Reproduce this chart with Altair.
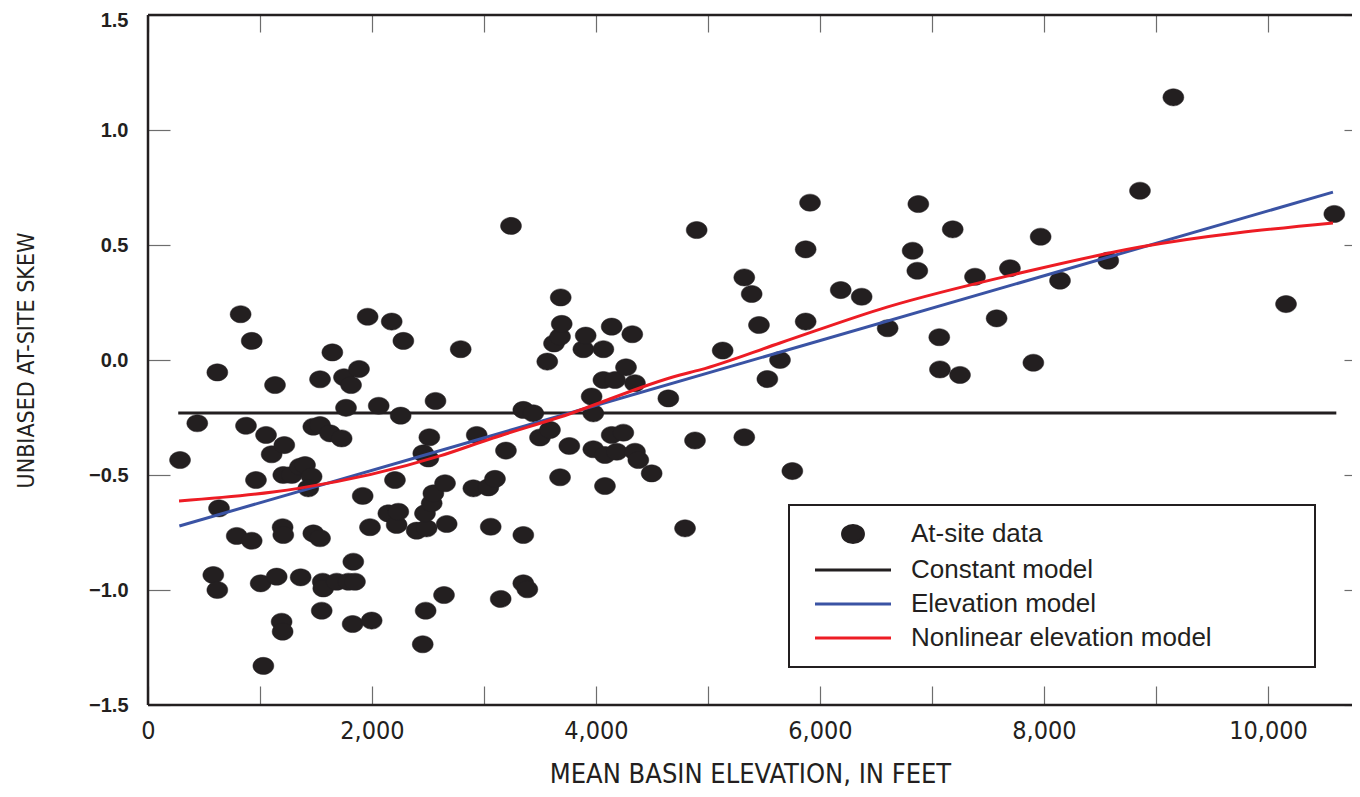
import altair as alt
import pandas as pd

# ---------------- data ----------------
X_MIN, X_MAX = 0, 10750
Y_MIN, Y_MAX = -1.5, 1.5

SERIES = ["At-site data", "Constant model", "Elevation model", "Nonlinear elevation model"]

site_x = [286, 440, 583, 619, 619, 634, 827, 792, 875, 926,
          926, 964, 1006, 1030, 1054, 1104, 1134, 1149, 1202, 1208,
          1193, 1202, 1217, 1208, 1283, 1357, 1363, 1402, 1461, 1431,
          1476, 1536, 1625, 1729, 1476, 1536, 1536, 1560, 1565, 1551,
          1646, 1685, 1750, 1813, 1768, 1789, 1833, 1848, 1827, 1884,
          1917, 1961, 1982, 1997, 2060, 2146, 2176, 2205, 2220, 2235,
          2256, 2280, 2399, 2453, 2458, 2479, 2488, 2473, 2503, 2512,
          2533, 2548, 2567, 2643, 2652, 2667, 2792, 2905, 2935, 3039,
          3060, 3098, 3149, 3196, 3241, 3351, 3440, 3351, 3351, 3387,
          3500, 3589, 3565, 3625, 3679, 3685, 3694, 3679, 3762, 3887,
          3908, 3961, 3976, 3976, 4066, 4066, 4080, 4080, 4140, 4140,
          4170, 4185, 4244, 4268, 4324, 4348, 4348, 4378, 4497, 4646,
          4795, 4884, 4899, 5131, 5324, 5324, 5390, 5455, 5530, 5643,
          5753, 5872, 5872, 5911, 6185, 6372, 6604, 6827, 6869, 6878,
          7065, 7071, 7185, 7250, 7384, 7577, 7696, 7905, 7970, 8143,
          8574, 8857, 9155, 10161, 10592]
site_y = [-0.435, -0.275, -0.935, -1.000, -0.054, -0.645, 0.199, -0.765, -0.286, 0.083,
          -0.786, -0.522, -0.971, -1.330, -0.326, -0.410, -0.109, -0.942, -0.727, -0.761,
          -1.138, -1.181, -0.370, -0.500, -0.500, -0.464, -0.945, -0.457, -0.507, -0.558,
          -0.290, -0.283, -0.319, -0.341, -0.754, -0.775, -0.084, -0.964, -0.993, -1.090,
          0.033, -0.964, -0.075, -0.109, -0.208, -0.964, -0.877, -0.964, -1.148, -0.039,
          -0.591, 0.188, -0.727, -1.133, -0.199, -0.667, 0.167, -0.522, -0.717, -0.660,
          -0.242, 0.083, -0.742, -1.236, -0.406, -1.090, -0.732, -0.667, -0.428, -0.336,
          -0.623, -0.580, -0.178, -1.022, -0.536, -0.713, 0.047, -0.558, -0.326, -0.554,
          -0.725, -0.517, -1.039, -0.394, 0.583, -0.217, -0.232, -0.761, -0.971, -0.997,
          -0.337, -0.304, -0.007, 0.072, 0.101, 0.272, 0.157, -0.510, -0.374, 0.047,
          0.106, -0.159, -0.232, -0.388, 0.047, -0.087, -0.413, -0.548, 0.145, -0.326,
          -0.087, -0.399, -0.316, -0.032, 0.112, -0.101, -0.399, -0.435, -0.493, -0.167,
          -0.732, -0.350, 0.565, 0.041, 0.359, -0.336, 0.287, 0.152, -0.083, 0.000,
          -0.483, 0.481, 0.167, 0.684, 0.304, 0.275, 0.138, 0.475, 0.388, 0.678,
          0.099, -0.041, 0.568, -0.065, 0.362, 0.181, 0.399, -0.012, 0.536, 0.345,
          0.432, 0.736, 1.142, 0.243, 0.635]

const_x = [270, 10610]
const_y = [-0.23, -0.23]

elev_x = [280, 10580]
elev_y = [-0.722, 0.730]

nl_x = [277, 1116, 1357, 2607, 3080, 3679, 4750, 4929, 5643, 6598, 7786, 8857, 10580]
nl_y = [-0.613, -0.574, -0.557, -0.417, -0.339, -0.248, -0.065, -0.043, 0.074, 0.230,
        0.378, 0.491, 0.596]

x_ticks = list(range(0, 11000, 1000))
y_ticks = [-1.5, -1.0, -0.5, 0.0, 0.5, 1.0, 1.5]

# ---------------- style ----------------
INK = "#231f20"
BLUE = "#3a53a4"
RED = "#ed1c24"
TICK = "#6d6d6d"
NARROW = "Liberation Sans Narrow, DejaVu Sans Condensed, Arial Narrow, sans-serif"
SANS = "Liberation Sans, Arial, Helvetica, sans-serif"
ELLIPSE = "M-1.1,0A1.1,0.9,0,1,1,1.1,0A1.1,0.9,0,1,1,-1.1,0Z"
LINE = "M-4,0H4"

xscale = alt.Scale(domain=[X_MIN, X_MAX], nice=False, zero=False)
yscale = alt.Scale(domain=[Y_MIN, Y_MAX], nice=False, zero=False)

bottom_axis = alt.Axis(
    orient="bottom", values=x_ticks, offset=-19, tickSize=19, tickColor=TICK, tickWidth=1.2,
    domain=False, grid=False, labelExpr="datum.value % 2000 == 0 ? format(datum.value, ',') : ''",
    labelFont=NARROW, labelFontSize=25, labelColor=INK, labelPadding=13, labelFlush=False,
    labelOverlap=False, labelBound=False,
    title="MEAN BASIN ELEVATION, IN FEET", titleFont=NARROW, titleFontSize=27,
    titleFontWeight="normal", titleColor=INK, titlePadding=18,
)
left_axis = alt.Axis(
    orient="left", values=y_ticks, format=".1f", offset=-22, tickSize=22, tickColor=TICK,
    tickWidth=1.2, domain=False, grid=False, labelFont=SANS, labelFontWeight="bold",
    labelFontSize=20, labelColor=INK, labelPadding=20,
    labelOffset={"condition": {"test": "datum.value >= 1.5", "value": 5}, "value": 0},
    labelFlush=False, labelOverlap=False, labelBound=False,
    title="UNBIASED AT-SITE SKEW", titleFont=NARROW, titleFontSize=23,
    titleFontWeight="normal", titleColor=INK, titlePadding=50,
)
top_axis = alt.Axis(
    orient="top", values=x_ticks, offset=-17, tickSize=17, tickColor=TICK, tickWidth=1.2,
    domain=False, grid=False, labels=False, title=None,
)
right_axis = alt.Axis(
    orient="right", values=y_ticks, offset=-8, tickSize=8, tickColor=TICK, tickWidth=1.2,
    domain=False, grid=False, labels=False, title=None,
)

# an invisible, right-hand legend title widens the box to the reference's size
legend = alt.Legend(
    title=".", titleOrient="right", titleOpacity=0, titleFontSize=10, titlePadding=84,
    orient="none", legendX=641, legendY=490, padding=16,
    strokeColor=INK, fillColor="white", cornerRadius=0,
    symbolSize=361, symbolStrokeWidth=3, symbolOffset=35, symbolOpacity=1,
    labelOffset=45, labelFont=SANS, labelFontSize=26, labelColor=INK, labelLimit=0,
    rowPadding=8,
)

# ---------------- layers ----------------
site_df = pd.DataFrame({"x": site_x, "y": site_y, "series": SERIES[0]})


def line_layer(xs, ys, color, interp="linear"):
    df = pd.DataFrame({"x": xs, "y": ys})
    return alt.Chart(df).mark_line(color=color, strokeWidth=3, interpolate=interp).encode(
        x=alt.X("x:Q", scale=xscale, axis=None),
        y=alt.Y("y:Q", scale=yscale, axis=None),
    )


const_layer = line_layer(const_x, const_y, INK)
elev_layer = line_layer(elev_x, elev_y, BLUE)
nl_layer = line_layer(nl_x, nl_y, RED, "monotone")

points = alt.Chart(site_df).mark_point(filled=True, size=361, strokeWidth=0.5, opacity=1).encode(
    x=alt.X("x:Q", scale=xscale, axis=bottom_axis),
    y=alt.Y("y:Q", scale=yscale, axis=left_axis),
    fill=alt.Fill("series:N", scale=alt.Scale(domain=SERIES, range=[INK, INK, BLUE, RED]), legend=legend),
    stroke=alt.Stroke("series:N", scale=alt.Scale(domain=SERIES, range=[INK, INK, BLUE, RED]), legend=legend),
    shape=alt.Shape("series:N", scale=alt.Scale(domain=SERIES, range=[ELLIPSE, LINE, LINE, LINE]), legend=legend),
)

frame_df = pd.DataFrame({
    "x": [X_MIN, X_MIN, X_MIN],
    "x2": [X_MAX, X_MAX, X_MIN],
    "y": [Y_MAX, Y_MIN, Y_MIN],
    "y2": [Y_MAX, Y_MIN, Y_MAX],
})
frame = alt.Chart(frame_df).mark_rule(color=INK, strokeWidth=2.5).encode(
    x=alt.X("x:Q", scale=xscale, axis=top_axis),
    x2="x2:Q",
    y=alt.Y("y:Q", scale=yscale, axis=right_axis),
    y2="y2:Q",
)

chart = alt.layer(const_layer, points, elev_layer, nl_layer, frame).resolve_axis(
    x="independent", y="independent"
).properties(
    width=1204, height=690,
    autosize=alt.AutoSizeParams(type="none"),
    padding={"left": 140, "top": 7, "right": 0, "bottom": 84},
    background="white",
).configure_view(stroke=None).configure_legend(strokeWidth=2)

chart.save("out.html", embed_options={"renderer": "svg", "actions": False})
